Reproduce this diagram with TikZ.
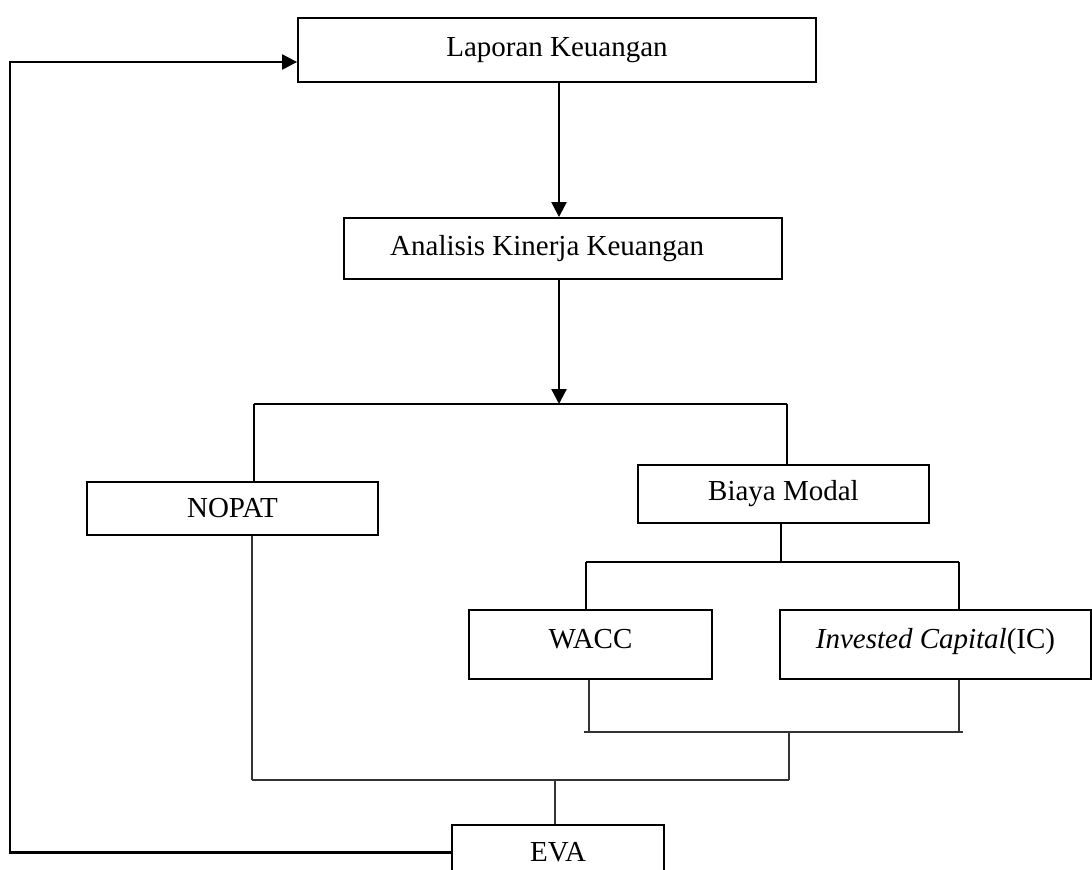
\documentclass[tikz,border=0pt]{standalone}
\usepackage{fontspec}
\setmainfont{Liberation Serif}
\usetikzlibrary{arrows.meta}
\begin{document}
\begin{tikzpicture}[x=0.02cm,y=-0.02cm,
  boxnode/.style={draw=black,line width=1.1pt,inner sep=0pt,font=\fontsize{16.5}{20}\selectfont},
  thick line/.style={line width=1.3pt},
  thin line/.style={line width=0.8pt,draw=black!80},
  arrowtip/.style={-{Triangle[length=8.5pt,width=8.5pt]}}
]
\useasboundingbox (0,0) rectangle (1092,869);
% boxes
\node[boxnode,minimum width=10.36cm,minimum height=1.28cm] (lap) at (557,50) {Laporan Keuangan};
\node[boxnode,minimum width=8.76cm,minimum height=1.22cm] (ana) at (563,248.5) {Analisis Kinerja Keuangan\hspace*{18pt}};
\node[boxnode,minimum width=5.82cm,minimum height=1.06cm] (nopat) at (232.5,508.5) {NOPAT};
\node[boxnode,minimum width=5.82cm,minimum height=1.16cm] (biaya) at (783.5,494) {Biaya Modal};
\node[boxnode,minimum width=4.86cm,minimum height=1.38cm,text height=11.5pt,text depth=7pt] (wacc) at (590.5,644.5) {WACC};
\node[boxnode,minimum width=6.22cm,minimum height=1.38cm,text height=11.5pt,text depth=7pt] (ic) at (935.5,644.5) {\textit{Invested Capital}(IC)};
\node[boxnode,minimum width=4.24cm,minimum height=1.1cm] (eva) at (558,852.5) {EVA};
% helper coordinates
\coordinate (fbtop) at (10,62);
\coordinate (fbbot) at (10,852.5);
\coordinate (ax) at (559,0);
\coordinate (barA) at (0,404);
\coordinate (barAl) at (254,404);
\coordinate (barAr) at (787,404);
\coordinate (barBl) at (586,562);
\coordinate (barBr) at (959,562);
\coordinate (barBm) at (781,562);
\coordinate (barCl) at (584,732);
\coordinate (barCr) at (963,732);
\coordinate (barCw) at (589,732);
\coordinate (barCi) at (959,732);
\coordinate (barCm) at (789,732);
\coordinate (barDl) at (252,780);
\coordinate (barDr) at (789,780);
\coordinate (barDm) at (555,780);
% feedback loop
\draw[thick line,arrowtip] (eva.west) -- (fbbot) -- (fbtop) -- (fbtop -| lap.west);
% main arrows
\draw[thick line,arrowtip] (lap.south -| ax) -- (ana.north -| ax);
\draw[thick line,arrowtip] (ana.south -| ax) -- (barA -| ax);
% first split
\draw[thick line] (barAl) -- (barAr);
\draw[thick line] (barAl) -- (nopat.north -| barAl);
\draw[thick line] (barAr) -- (biaya.north -| barAr);
% second split
\draw[thick line] (biaya.south -| barBm) -- (barBm);
\draw[thick line] (barBl) -- (barBr);
\draw[thick line] (barBl) -- (wacc.north -| barBl);
\draw[thick line] (barBr) -- (ic.north -| barBr);
% merge WACC and IC
\draw[thin line] (wacc.south -| barCw) -- (barCw);
\draw[thin line] (ic.south -| barCi) -- (barCi);
\draw[thin line] (barCl) -- (barCr);
\draw[thin line] (barCm) -- (barDr);
% merge with NOPAT
\draw[thin line] (nopat.south -| barDl) -- (barDl);
\draw[thin line] (barDl) -- (barDr);
\draw[thin line] (barDm) -- (eva.north -| barDm);
\end{tikzpicture}
\end{document}
